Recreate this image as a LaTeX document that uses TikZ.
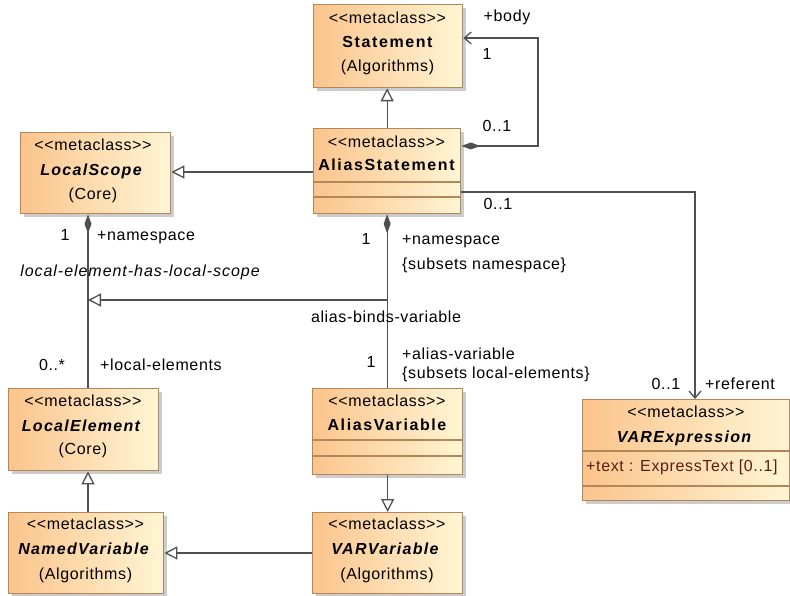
\documentclass[tikz,border=0pt]{standalone}
\usepackage{fontspec}
\setmainfont{Liberation Sans}[Ligatures=TeXOff, LetterSpace=4, BoldFeatures={LetterSpace=10}, ItalicFeatures={LetterSpace=6}, BoldItalicFeatures={LetterSpace=8}]
\usetikzlibrary{arrows.meta,shadows,calc}
\definecolor{orA}{RGB}{251,196,140}
\definecolor{orB}{RGB}{255,245,212}
\definecolor{bdr}{RGB}{180,135,90}
\definecolor{lnc}{RGB}{80,80,80}
\definecolor{attr}{RGB}{90,30,20}
\tikzset{
  cls/.style={draw=bdr, line width=1.3pt, left color=orA, right color=orB,
    drop shadow={shadow xshift=3pt,shadow yshift=-3pt,fill=black!40,opacity=0.5},
    inner sep=0pt, anchor=north west},
  txt/.style={inner sep=0pt, font=\fontsize{16}{19}\selectfont, text height=11.5pt, text depth=3pt},
  nm/.style={txt, font=\fontsize{16}{19}\selectfont\bfseries},
  anm/.style={txt, font=\fontsize{16}{19}\selectfont\bfseries\itshape},
  sep/.style={draw=bdr, line width=1.1pt},
  conn/.style={draw=lnc, line width=1.3pt},
  gen/.style={conn, -{Triangle[open,length=13pt,width=13pt,fill=white]}},
  nav/.style={conn, -{Straight Barb[length=7pt,width=12pt]}},
  comp/.style={conn, {Diamond[length=19pt,width=7pt,fill=lnc]}-},
  compnav/.style={conn, {Diamond[length=19pt,width=7pt,fill=lnc]}-{Straight Barb[length=7pt,width=12pt]}},
}
\begin{document}
\begin{tikzpicture}[x=1pt,y=-1pt]
\useasboundingbox (0,0) rectangle (790,596);
% classes
\node[cls,minimum width=149pt,minimum height=83pt] (stmt) at (313,4) {};
\node[cls,minimum width=147pt,minimum height=85pt] (as) at (313,128) {};
\node[cls,minimum width=150pt,minimum height=81pt] (ls) at (20,132) {};
\node[cls,minimum width=150pt,minimum height=82pt] (le) at (8,388) {};
\node[cls,minimum width=155pt,minimum height=81pt] (nv) at (8,512) {};
\node[cls,minimum width=150pt,minimum height=86pt] (av) at (312,388) {};
\node[cls,minimum width=150pt,minimum height=81pt] (vv) at (312,512) {};
\node[cls,minimum width=207pt,minimum height=101pt] (ve) at (582,399) {};
% compartments
\draw[sep] (as.west |- 0,182) -- (as.east |- 0,182);
\draw[sep] (as.west |- 0,197) -- (as.east |- 0,197);
\draw[sep] (av.west |- 0,440) -- (av.east |- 0,440);
\draw[sep] (av.west |- 0,456) -- (av.east |- 0,456);
\draw[sep] (ve.west |- 0,451) -- (ve.east |- 0,451);
\draw[sep] (ve.west |- 0,486) -- (ve.east |- 0,486);
% class texts
\node[txt] (stmtS) at (387.5,19) {<<metaclass>>};
\node[nm]  (stmtN) at (387.5,43) {Statement};
\node[txt] (stmtP) at (387.5,67) {(Algorithms)};
\node[txt] (asS) at (386.5,143) {<<metaclass>>};
\node[nm]  (asN) at (386.5,166) {AliasStatement};
\node[txt] (lsS) at (93,146) {<<metaclass>>};
\node[anm] (lsN) at (91,171) {LocalScope};
\node[txt] (lsP) at (93,195) {(Core)};
\node[txt] (leS) at (83,402) {<<metaclass>>};
\node[anm] (leN) at (81,427) {LocalElement};
\node[txt] (leP) at (83,450) {(Core)};
\node[txt] (nvS) at (85.5,525) {<<metaclass>>};
\node[anm] (nvN) at (83.5,550) {NamedVariable};
\node[txt] (nvP) at (85.5,575) {(Algorithms)};
\node[txt] (avS) at (387,402) {<<metaclass>>};
\node[nm]  (avN) at (387,426) {AliasVariable};
\node[txt] (vvS) at (387,525) {<<metaclass>>};
\node[anm] (vvN) at (385,550) {VARVariable};
\node[txt] (vvP) at (387,575) {(Algorithms)};
\node[txt] (veS) at (686,413) {<<metaclass>>};
\node[anm] (veN) at (684,438) {VARExpression};
\node[txt,anchor=west,text=attr] (veA) at (586,467) {+text : ExpressText [0..1]};
% connectors
\coordinate (xl) at (88,0);
\draw[gen] (as.north) -- (as.north |- stmt.south);
\coordinate (sb) at (538,146);
\coordinate (st) at (538,38);
\draw[compnav] (sb -| as.east) -- (sb) -- (st) -- (st -| stmt.east);
\draw[gen] (as.west |- 0,172) -- (ls.east |- 0,172);
\draw[comp] (ls.south -| xl) -- (le.north -| xl);
\draw[comp] (as.south) -- (as.south |- av.north);
\coordinate (j1) at (386.5,300);
\draw[gen] (j1) -- (j1 -| xl);
\draw[gen] (av.south) -- (av.south |- vv.north);
\draw[gen] (nv.north -| xl) -- (le.south -| xl);
\draw[gen] (vv.west |- 0,553) -- (nv.east |- 0,553);
\coordinate (c1) at (695,192);
\draw[nav] (c1 -| as.east) -- (c1) -- (c1 |- ve.north);
% labels
\node[txt] (l1) at (507,17) {+body};
\node[txt] (l2) at (487,55) {1};
\node[txt] (l3) at (497,127) {0..1};
\node[txt] (l4) at (498,205) {0..1};
\node[txt] (l5) at (65,236) {1};
\node[txt,anchor=west] (l6) at (97,236) {+namespace};
\node[txt,font=\fontsize{16}{19}\selectfont\itshape] (l7) at (140,272) {local-element-has-local-scope};
\node[txt] (l8) at (52,366) {0..*};
\node[txt,anchor=west] (l9) at (100,366) {+local-elements};
\node[txt] (l10) at (366,240) {1};
\node[txt,anchor=west] (l11) at (402,240) {+namespace};
\node[txt,anchor=west] (l12) at (402,265) {\{subsets namespace\}};
\node[txt] (l13) at (386,318) {alias-binds-variable};
\node[txt] (l14) at (371,363) {1};
\node[txt,anchor=west] (l15) at (402,355) {+alias-variable};
\node[txt,anchor=west] (l16) at (402,374) {\{subsets local-elements\}};
\node[txt] (l17) at (666,385) {0..1};
\node[txt,anchor=west] (l18) at (705,385) {+referent};
\end{tikzpicture}
\end{document}
